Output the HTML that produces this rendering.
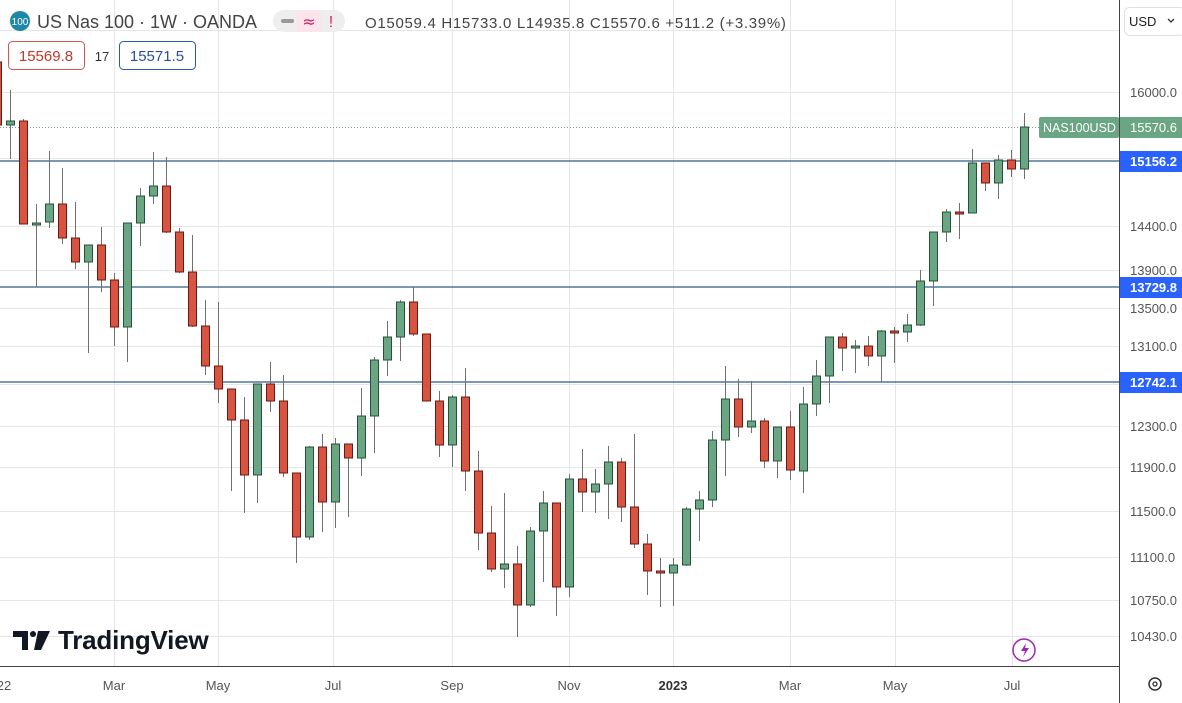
<!DOCTYPE html>
<html><head><meta charset="utf-8"><style>
html,body{margin:0;padding:0;background:#fff;}
body{width:1182px;height:703px;overflow:hidden;position:relative;font-family:"Liberation Sans",sans-serif;}
svg{position:absolute;left:0;top:0;}
</style></head><body>
<svg id="c" width="1182" height="703" xmlns="http://www.w3.org/2000/svg">
<g stroke="#e6e6e6" stroke-width="1" id="grid"></g>
<line x1="0" y1="127.5" x2="1040" y2="127.5" stroke="#7a9f8a" stroke-width="1" stroke-dasharray="1,2"/>
<g stroke="#2c5a87" stroke-width="1.3">
<line x1="0" y1="161" x2="1119" y2="161"/>
<line x1="0" y1="287" x2="1119" y2="287"/>
<line x1="0" y1="382" x2="1119" y2="382"/>
</g>
<g id="candles"></g>
<line x1="1119.5" y1="0" x2="1119.5" y2="703" stroke="#444" stroke-width="1"/>
<line x1="0" y1="666.5" x2="1119" y2="666.5" stroke="#444" stroke-width="1"/>
<g font-size="13" fill="#555" font-family="Liberation Sans,sans-serif" text-anchor="middle">
<text x="4" y="690">22</text><text x="114" y="690">Mar</text><text x="218" y="690">May</text>
<text x="333" y="690">Jul</text><text x="452" y="690">Sep</text><text x="569" y="690">Nov</text>
<text x="673" y="690" font-weight="bold" fill="#333">2023</text><text x="790" y="690">Mar</text>
<text x="895" y="690">May</text><text x="1012" y="690">Jul</text>
</g>
<g font-size="13" fill="#555" font-family="Liberation Sans,sans-serif">
<text x="1130" y="97">16000.0</text><text x="1130" y="231">14400.0</text><text x="1130" y="275">13900.0</text>
<text x="1130" y="313">13500.0</text><text x="1130" y="351">13100.0</text><text x="1130" y="431">12300.0</text>
<text x="1130" y="472">11900.0</text><text x="1130" y="516">11500.0</text><text x="1130" y="562">11100.0</text>
<text x="1130" y="605">10750.0</text><text x="1130" y="641">10430.0</text>
</g>
<rect x="1039" y="117" width="80" height="21" rx="2" fill="#6aa683"/>
<text x="1043" y="132" font-size="12.5" fill="#fff" font-family="Liberation Sans,sans-serif">NAS100USD</text>
<rect x="1120" y="117" width="62" height="21" fill="#6aa683"/>
<text x="1130" y="132" font-size="13" fill="#fff" font-family="Liberation Sans,sans-serif">15570.6</text>
<g font-size="13" font-weight="bold" fill="#fff" font-family="Liberation Sans,sans-serif">
<rect x="1120" y="151" width="62" height="21" fill="#2962ff"/><text x="1130" y="166">15156.2</text>
<rect x="1120" y="277" width="62" height="21" fill="#2962ff"/><text x="1130" y="292">13729.8</text>
<rect x="1120" y="372" width="62" height="21" fill="#2962ff"/><text x="1130" y="387">12742.1</text>
</g>
<rect x="1124.5" y="7.5" width="60" height="28" rx="5" fill="#fff" stroke="#e0e0e0"/>
<text x="1129" y="26" font-size="13" fill="#222" font-family="Liberation Sans,sans-serif">USD</text>
<path d="M1168 19 l3 3 l3 -3" stroke="#333" fill="none" stroke-width="1.3"/>
<circle cx="1155" cy="684" r="6" fill="none" stroke="#333" stroke-width="1.5"/>
<circle cx="1155" cy="684" r="2" fill="none" stroke="#333" stroke-width="1.3"/>
<circle cx="1024" cy="650" r="11" fill="#fff" stroke="#9c27b0" stroke-width="1.5"/>
<path d="M1026 643 l-5 8 h4 l-2 6 l6 -9 h-4 z" fill="#9c27b0"/>
<circle cx="20" cy="21" r="10" fill="#1e88a8"/>
<text x="20" y="25" font-size="10" fill="#fff" text-anchor="middle" font-family="Liberation Sans,sans-serif">100</text>
<text x="37" y="28" font-size="18" fill="#444" font-family="Liberation Sans,sans-serif">US Nas 100 · 1W · OANDA</text>
<rect x="273" y="10" width="72" height="22" rx="11" fill="#eeeeee"/>
<rect x="297" y="10" width="24" height="22" fill="#fce4ec"/>
<rect x="281" y="19" width="13" height="4" rx="2" fill="#999"/>
<text x="309" y="27" font-size="16" fill="#d81b60" text-anchor="middle" font-family="DejaVu Sans,sans-serif">≈</text>
<text x="331" y="27" font-size="16" fill="#e91e63" text-anchor="middle" font-family="Liberation Sans,sans-serif">!</text>
<text x="365" y="28" font-size="15" fill="#444" letter-spacing="0.7" font-family="Liberation Sans,sans-serif">O15059.4 H15733.0 L14935.8 C15570.6 +511.2 (+3.39%)</text>
<rect x="8.5" y="41.5" width="76" height="28" rx="4" fill="#fff" stroke="#d9534f"/>
<text x="46" y="61" font-size="15" fill="#c0392b" text-anchor="middle" font-family="Liberation Sans,sans-serif">15569.8</text>
<text x="102" y="61" font-size="13" fill="#333" text-anchor="middle" font-family="Liberation Sans,sans-serif">17</text>
<rect x="119.5" y="41.5" width="76" height="28" rx="4" fill="#fff" stroke="#2a5aa8"/>
<text x="157" y="61" font-size="15" fill="#2a4f9a" text-anchor="middle" font-family="Liberation Sans,sans-serif">15571.5</text>
<path d="M13 631 h15 v19 h-6 v-13 h-9 z" fill="#131722"/>
<circle cx="33" cy="634" r="3" fill="#131722"/>
<path d="M38 631 h12 l-9 19 h-7 z" fill="#131722"/>
<text x="58" y="649" font-size="26" font-weight="bold" fill="#131722" font-family="Liberation Sans,sans-serif" letter-spacing="-0.2">TradingView</text>
</svg>
<script>
var NS="http://www.w3.org/2000/svg";
var g=document.getElementById('grid');
[30,92,158,226,270,308,346,384,426,467,511,557,600,636].forEach(function(y){var l=document.createElementNS(NS,'line');l.setAttribute('x1',0);l.setAttribute('x2',1119);l.setAttribute('y1',y+.5);l.setAttribute('y2',y+.5);g.appendChild(l);});
[114,218,333,452,569,673,790,895,1012].forEach(function(x){var l=document.createElementNS(NS,'line');l.setAttribute('x1',x+.5);l.setAttribute('x2',x+.5);l.setAttribute('y1',0);l.setAttribute('y2',666);g.appendChild(l);});
var D=[[62,125,50,130],[125,121,90,159],[121,224,119,224],[224,223,204,287],[222,204,151,228],[204,238,168,244],[238,262,202,269],[262,245,245,353],[245,280,227,292],[280,327,273,346],
[327,223,223,362],[223,196,188,246],[196,186,152,204],[186,232,157,233],[232,272,228,273],[272,326,235,327],[326,366,300,375],[366,389,302,403],[389,420,389,491],[420,475,397,513],
[475,384,384,503],[384,401,362,412],[401,473,375,477],[473,537,473,563],[537,447,446,540],[447,502,434,532],[502,444,438,528],[444,458,444,517],[458,416,388,476],[416,360,357,453],
[360,337,321,376],[337,302,300,361],[302,334,287,336],[334,401,334,401],[401,445,391,457],[445,397,395,467],[397,471,368,491],[471,533,451,550],[533,569,506,572],[569,564,493,588],
[564,605,546,637],[605,531,527,607],[531,503,491,582],[503,587,503,616],[587,479,474,597],[479,492,449,512],[492,484,469,513],[484,462,446,519],[462,507,458,522],[507,544,434,548],
[544,571,534,595],[571,573,558,607],[573,565,558,606],[565,509,507,566],[509,500,491,541],[500,440,431,507],[440,399,366,476],[399,427,379,437],[427,421,381,433],[421,461,418,468],
[461,427,427,478],[427,470,411,480],[471,404,387,493],[404,376,360,416],[376,337,337,403],[337,348,333,371],[348,346,340,373],[346,356,336,366],[356,331,330,382],[331,332,327,363],
[332,325,314,342],[325,281,270,326],[281,232,232,306],[232,212,209,242],[212,213,203,239],[213,163,149,213],[163,183,163,191],[183,160,155,199],[160,169,150,177],[169,127,113,179]];
var cg=document.getElementById('candles');
D.forEach(function(d,k){var x=Math.round(-2.7+13*k);var o=d[0],c=d[1],h=d[2],l=d[3];var up=c<o;
var w=document.createElementNS(NS,'line');w.setAttribute('x1',x+.5);w.setAttribute('x2',x+.5);w.setAttribute('y1',h);w.setAttribute('y2',l);w.setAttribute('stroke','#707070');w.setAttribute('stroke-width',1);cg.appendChild(w);
var r=document.createElementNS(NS,'rect');var t=Math.min(o,c),b=Math.max(o,c);if(b-t<2){b=t+2;}
r.setAttribute('x',x-3.5);r.setAttribute('y',t);r.setAttribute('width',8);r.setAttribute('height',b-t);
r.setAttribute('fill',up?'#6ba583':'#d75442');r.setAttribute('stroke',up?'#225437':'#6b1a10');r.setAttribute('stroke-width',1);cg.appendChild(r);});
</script>
</body></html>
